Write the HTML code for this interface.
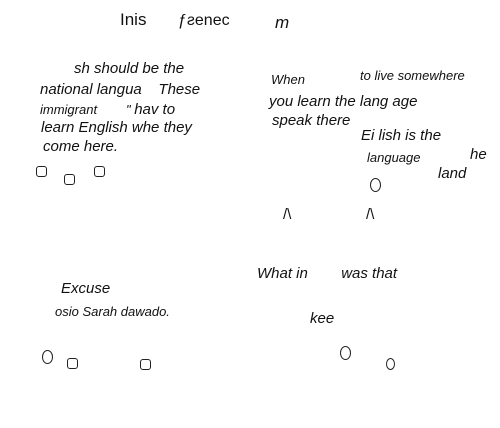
<!DOCTYPE html>
<html><head><style>
body{margin:0;width:500px;height:428px;background:#fff;position:relative;overflow:hidden;font-family:"Liberation Sans",sans-serif;color:#111}
.t{position:absolute;white-space:nowrap;font-size:15px;line-height:16px;font-style:italic;transform-origin:left top}
.s{font-size:13px}
.b{position:absolute;width:9px;height:9px;border:1.3px solid #222;border-radius:3px}
.o{position:absolute;width:9px;height:12px;border:1.5px solid #222;border-radius:50%}
</style></head><body>
<div class="t" style="left:120px;top:12px;font-size:17px;font-style:normal">Inis</div>
<div class="t" style="left:178px;top:13px;font-size:16px;font-style:normal">ƒƨenec</div>
<div class="t" style="left:275px;top:15px;font-size:17px">m</div>

<div class="t" style="left:74px;top:61px">sh should be the</div>
<div class="t" style="left:40px;top:82px">national langua&nbsp;&nbsp;&nbsp;&nbsp;These</div>
<div class="t s" style="left:40px;top:102px">immigrant&nbsp;&nbsp;&nbsp;&nbsp;&nbsp;&nbsp;&nbsp;&nbsp;" <span style="font-size:15px">hav to</span></div>
<div class="t" style="left:41px;top:120px">learn English whe they</div>
<div class="t" style="left:43px;top:139px">come here.</div>
<div class="b" style="left:36px;top:166px"></div>
<div class="b" style="left:64px;top:174px"></div>
<div class="b" style="left:94px;top:166px"></div>

<div class="t s" style="left:271px;top:72px">When</div>
<div class="t s" style="left:360px;top:68px">to live somewhere</div>
<div class="t" style="left:269px;top:94px">you learn the lang age</div>
<div class="t" style="left:272px;top:113px">speak there</div>
<div class="t" style="left:361px;top:128px">Ei lish is the</div>
<div class="t s" style="left:367px;top:150px">language</div>
<div class="t" style="left:470px;top:147px">he</div>
<div class="t" style="left:438px;top:166px">land</div>
<div class="o" style="left:370px;top:178px"></div>
<div class="t" style="left:283px;top:207px;font-style:normal">/\</div>
<div class="t" style="left:366px;top:207px;font-style:normal">/\</div>

<div class="t" style="left:61px;top:281px">Excuse</div>
<div class="t s" style="left:55px;top:304px">osio Sarah dawado.</div>
<div class="o" style="left:42px;top:350px"></div>
<div class="b" style="left:67px;top:358px"></div>
<div class="b" style="left:140px;top:359px"></div>

<div class="t" style="left:257px;top:266px">What in&nbsp;&nbsp;&nbsp;&nbsp;&nbsp;&nbsp;&nbsp;&nbsp;was that</div>
<div class="t" style="left:310px;top:311px">kee</div>
<div class="o" style="left:340px;top:346px"></div>
<div class="o" style="left:386px;top:358px;width:7px;height:10px"></div>
</body></html>
